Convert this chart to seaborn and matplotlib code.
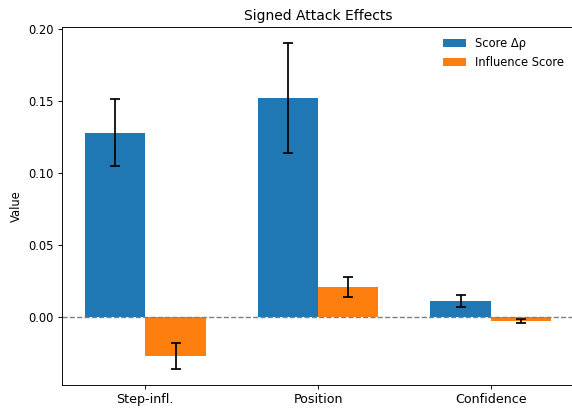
import pandas as pd
import matplotlib.pyplot as plt
import seaborn as sns

# Values
categories = ["Step-infl.", "Position", "Confidence"]
series = ["Score Δρ", "Influence Score"]
score_vals = [0.128, 0.152, 0.011]
score_err = [0.023, 0.038, 0.004]
infl_vals = [-0.027, 0.021, -0.003]
infl_err = [0.009, 0.007, 0.0014]

df = pd.DataFrame({
    "category": categories * 2,
    "series": [series[0]] * 3 + [series[1]] * 3,
    "value": score_vals + infl_vals,
    "err": score_err + infl_err,
})

DPI = 83
fig = plt.figure(figsize=(572 / DPI, 410 / DPI), dpi=DPI)
ax = fig.add_axes([61.5 / 572, 1 - 385 / 410, 513 / 572, 358 / 410])

sns.barplot(data=df, x="category", y="value", hue="series", order=categories,
            hue_order=series, palette=["#1f77b4", "#ff7f0e"], saturation=1,
            width=0.7, gap=0, errorbar=None, ax=ax)

# error bars placed at the centres of the drawn bars
for bar_group, s in zip(ax.containers, series):
    sub = df[df["series"] == s].set_index("category").loc[categories]
    xs = [b.get_x() + b.get_width() / 2 for b in bar_group]
    ax.errorbar(xs, sub["value"], yerr=sub["err"], fmt="none", ecolor="black",
                capsize=4.6, elinewidth=1.5, capthick=1.5)

ax.axhline(0, color="gray", linestyle="--", linewidth=1.2)
ax.set_title("Signed Attack Effects", fontsize=12)
ax.set_xlabel("")
ax.set_ylabel("Value", fontsize=10)
ax.tick_params(axis="x", labelsize=11)
ax.tick_params(axis="y", labelsize=10)
ax.legend(frameon=False, fontsize=10, loc="upper right")

plt.savefig("out.png", dpi=DPI)
